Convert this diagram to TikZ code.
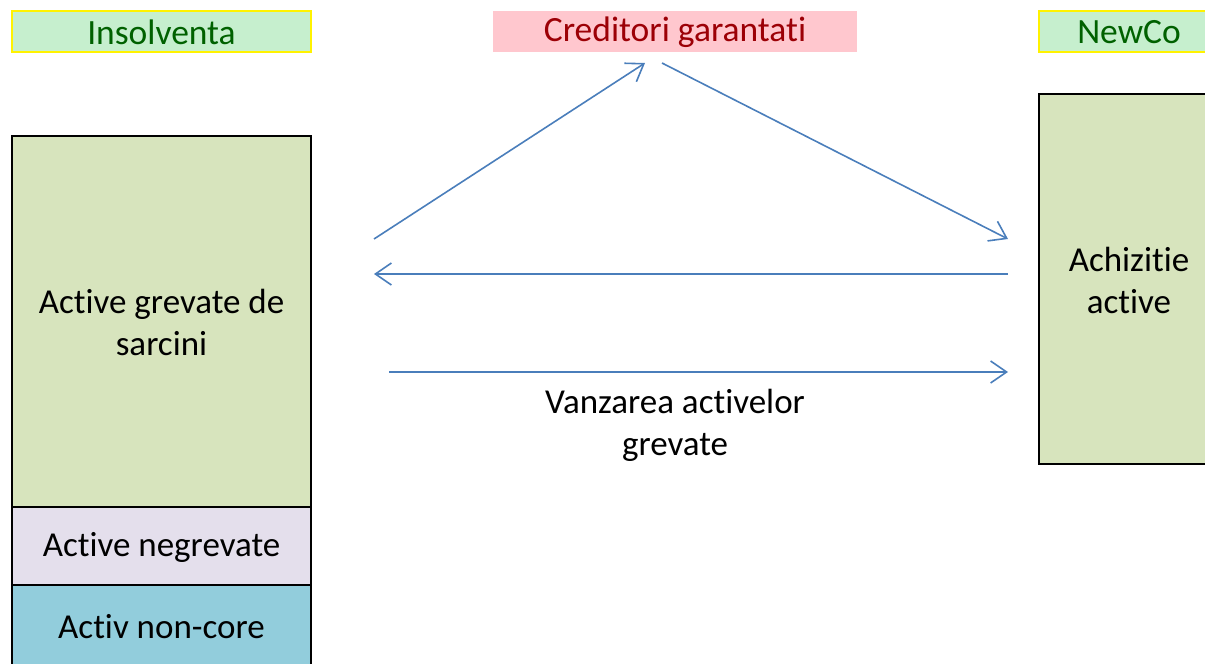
\documentclass[tikz,border=0pt]{standalone}
\usepackage{fontspec}
\setmainfont[Ligatures=NoCommon]{Carlito}
\usetikzlibrary{arrows.meta}
\definecolor{goodfill}{HTML}{C6EFCE}
\definecolor{goodtext}{HTML}{006100}
\definecolor{badfill}{HTML}{FFC7CE}
\definecolor{badtext}{HTML}{9C0006}
\definecolor{olivefill}{HTML}{D7E4BD}
\definecolor{lavfill}{HTML}{E4DFEC}
\definecolor{tealfill}{HTML}{92CDDC}
\definecolor{arrowblue}{HTML}{4A7EBB}
\tikzset{
  lbl/.style={font=\fontsize{35.5}{40}\selectfont},
  blockbox/.style={draw=black, line width=2.2pt},
  flow/.style={draw=arrowblue, line width=1.6pt, -{Straight Barb[length=16pt,width=22pt,line width=1.6pt]}},
  body/.style={font=\fontsize{35}{42}\selectfont, align=center, text=black}
}
\begin{document}
\begin{tikzpicture}[x=1pt,y=-1pt]
\useasboundingbox (0,0) rectangle (1205,664);
\clip (0,0) rectangle (1205,664);
% top labels
\fill[goodfill] (12,11) rectangle (311,52);
\draw[yellow, line width=2pt] (12,11) rectangle (311,52);
\node[lbl, text=goodtext] (insol) at (161.5,32) {Insolventa};
\fill[badfill] (493,11) rectangle (857,52);
\node[lbl, text=badtext] (cred) at (675,32) {Creditori garantati};
\fill[goodfill] (1039,11) rectangle (1215,52);
\draw[yellow, line width=2pt] (1039,11) rectangle (1215,52);
\node[lbl, text=goodtext] (newco) at (1129,32) {NewCo};
% left stack
\fill[olivefill] (12,136) rectangle (311,507);
\fill[lavfill] (12,507) rectangle (311,585);
\fill[tealfill] (12,585) rectangle (311,680);
\draw[blockbox] (12,680) -- (12,136) -- (311,136) -- (311,680);
\draw[blockbox] (12,507) -- (311,507);
\draw[blockbox] (12,585) -- (311,585);
\node[body] (grev) at (161.5,322) {Active grevate de\\sarcini};
\node[body] (negr) at (161.5,547) {Active negrevate};
\node[body] (nonc) at (161.5,627) {Activ non-core};
% right box
\fill[olivefill] (1039,94) rectangle (1215,464);
\draw[blockbox] (1039,94) rectangle (1215,464);
\node[body] (achiz) at (1129,280) {Achizitie\\active};
% arrows
\coordinate (a1s) at (374,239);
\coordinate (a1e) at (645,63);
\coordinate (a2s) at (662,63);
\coordinate (a2e) at (1008,239);
\coordinate (a3s) at (1008,274);
\coordinate (a3e) at (374,274);
\coordinate (a4s) at (389,372);
\coordinate (a4e) at (1008,372);
\draw[flow] (a1s) -- (a1e);
\draw[flow] (a2s) -- (a2e);
\draw[flow] (a3s) -- (a3e);
\draw[flow] (a4s) -- (a4e);
\node[body] (vanz) at (675,425) {Vanzarea activelor\\grevate};
\end{tikzpicture}
\end{document}
